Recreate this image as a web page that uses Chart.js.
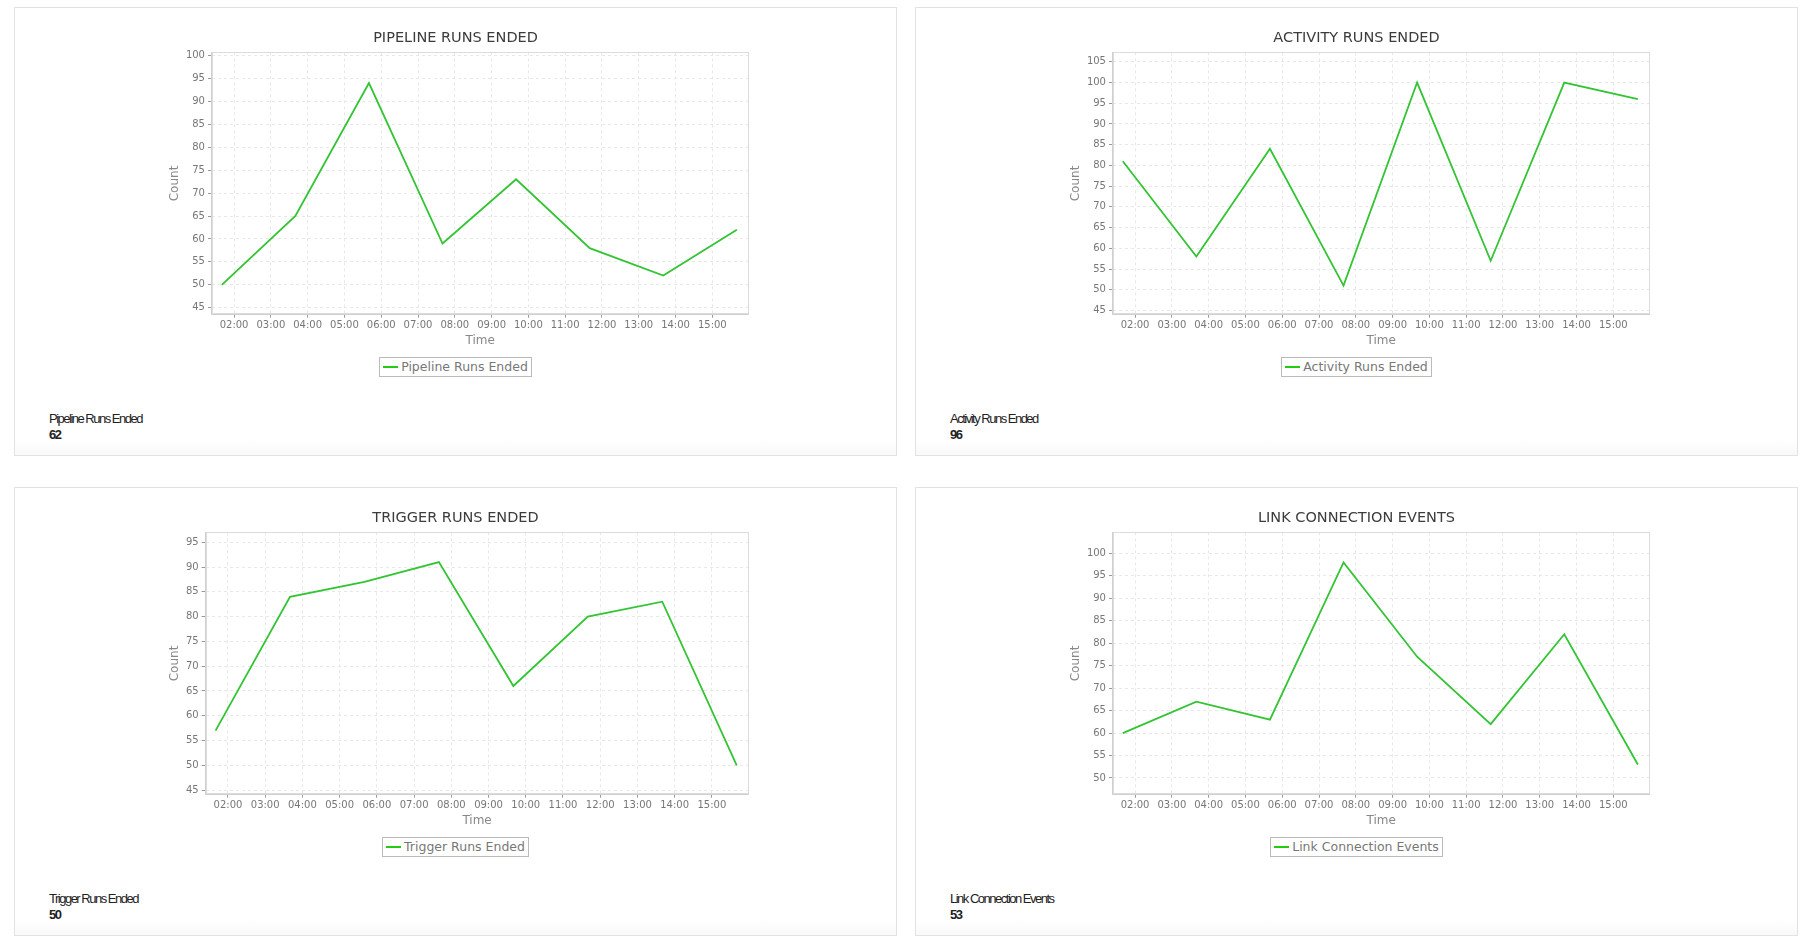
<!DOCTYPE html>
<html>
<head>
<meta charset="utf-8">
<script src="https://cdn.jsdelivr.net/npm/chart.js@4.4.1/dist/chart.umd.min.js"></script>
<style>
    body { margin: 0; width: 1813px; height: 944px; position: relative; overflow: hidden; background: #fff; font-family: "DejaVu Sans", sans-serif; }
    .panel { position: absolute; width: 881px; height: 447px; border: 1px solid #e2e2e2;
             background: linear-gradient(to bottom, #fff 0, #fff 432px, #f9f9f9 447px); }
    .panel canvas { position: absolute; left: 0; top: 0; }
    .legend { position: absolute; left: 0; top: 348px; width: 881px; text-align: center; }
    .legend .box { display: inline-block; border: 1px solid #bbb; height: 18px; line-height: 18px; padding: 0 3px 0 3px;
                   font-size: 12.5px; color: #777; white-space: nowrap; }
    .legend .swatch { display: inline-block; width: 15px; height: 2px; vertical-align: middle; margin-right: 3px; position: relative; top: -1px; }
    .stat { position: absolute; left: 34px; top: 403px; font-family: "Liberation Sans", Arial, sans-serif; font-size: 13px;
            line-height: 16px; letter-spacing: -1.5px; color: #222; }
    .stat b { display: block; }
</style>
</head>
<body>
<div id="p0" class="panel" style="left:14px; top:7px;"></div>
<div id="p1" class="panel" style="left:915px; top:7px;"></div>
<div id="p2" class="panel" style="left:14px; top:487px;"></div>
<div id="p3" class="panel" style="left:915px; top:487px;"></div>
<script>
// sample times (every two hours, at :40)
const times = ['01:40', '03:40', '05:40', '07:40', '09:40', '11:40', '13:40', '15:40'];
const hourTicks = ['02:00', '03:00', '04:00', '05:00', '06:00', '07:00', '08:00', '09:00',
                   '10:00', '11:00', '12:00', '13:00', '14:00', '15:00'];
const timeRange = ['01:24', '15:59'];

const chartTitles = ['PIPELINE RUNS ENDED', 'ACTIVITY RUNS ENDED', 'TRIGGER RUNS ENDED', 'LINK CONNECTION EVENTS'];
const seriesNames = ['Pipeline Runs Ended', 'Activity Runs Ended', 'Trigger Runs Ended', 'Link Connection Events'];

const pipelineRuns = [50, 65, 94, 59, 73, 58, 52, 62];
const activityRuns = [81, 58, 84, 51, 100, 57, 100, 96];
const triggerRuns  = [57, 84, 87, 91, 66, 80, 83, 50];
const linkEvents   = [60, 67, 63, 98, 77, 62, 82, 53];

const pipelineTicks = [45, 50, 55, 60, 65, 70, 75, 80, 85, 90, 95, 100];
const activityTicks = [45, 50, 55, 60, 65, 70, 75, 80, 85, 90, 95, 100, 105];
const triggerTicks  = [45, 50, 55, 60, 65, 70, 75, 80, 85, 90, 95];
const linkTicks     = [50, 55, 60, 65, 70, 75, 80, 85, 90, 95, 100];

const pipelineRange = [43.5, 100.7];
const activityRange = [44.0, 107.3];
const triggerRange  = [44.1, 97.0];
const linkRange     = [46.3, 104.7];

const lineColor = '#33c433';
const legendColor = '#22cc11';

function toHours(t) {
    const [h, m] = t.split(':').map(Number);
    return h + m / 60;
}

function fmtHour(v) {
    return String(Math.floor(v)).padStart(2, '0') + ':00';
}

// light frame around the plot area (top and right edges too)
const plotFrame = {
    id: 'plotFrame',
    beforeDatasetsDraw(chart) {
        const { ctx, chartArea: a } = chart;
        ctx.save();
        ctx.strokeStyle = '#dcdcdc';
        ctx.lineWidth = 1;
        ctx.strokeRect(Math.round(a.left) + 0.5, Math.round(a.top) + 0.5,
                       Math.round(a.right - a.left) - 1, Math.round(a.bottom - a.top) - 1);
        ctx.restore();
    }
};

function makePanel(idx, values, yTicks, yRange) {
    const panel = document.getElementById('p' + idx);

    const canvas = document.createElement('canvas');
    canvas.width = 881;
    canvas.height = 340;
    panel.appendChild(canvas);

    // legend
    const legend = document.createElement('div');
    legend.className = 'legend';
    legend.innerHTML = '<span class="box"><span class="swatch" style="background:' + legendColor + '"></span>' +
                       seriesNames[idx] + '</span>';
    panel.appendChild(legend);

    // last value summary
    const stat = document.createElement('div');
    stat.className = 'stat';
    stat.innerHTML = seriesNames[idx] + '<b>' + values[values.length - 1] + '</b>';
    panel.appendChild(stat);

    const tickFont = { family: 'DejaVu Sans', size: 10 };
    const titleFont = { family: 'DejaVu Sans', size: 12 };

    new Chart(canvas.getContext('2d'), {
        type: 'line',
        data: {
            datasets: [{
                label: seriesNames[idx],
                data: times.map((t, i) => ({ x: toHours(t), y: values[i] })),
                borderColor: lineColor,
                borderWidth: 1.8,
                pointRadius: 0,
                tension: 0,
                fill: false
            }]
        },
        options: {
            responsive: false,
            animation: false,
            layout: { padding: { left: 147.5, right: 147.5, top: 0, bottom: 0 } },
            plugins: {
                legend: { display: false },
                tooltip: { enabled: false },
                title: {
                    display: true,
                    text: chartTitles[idx],
                    color: '#3c3c3c',
                    font: { family: 'DejaVu Sans', size: 14.5, weight: 'normal' },
                    padding: { top: 21.3, bottom: 5.6 }
                }
            },
            scales: {
                x: {
                    type: 'linear',
                    min: toHours(timeRange[0]),
                    max: toHours(timeRange[1]),
                    afterBuildTicks: (axis) => { axis.ticks = hourTicks.map(h => ({ value: toHours(h) })); },
                    ticks: { font: tickFont, color: '#777', padding: 2, maxRotation: 0, autoSkip: false,
                             callback: (v) => fmtHour(v) },
                    grid: { color: '#e8e8e8', tickColor: '#999', tickLength: 3 },
                    border: { color: '#d0d0d0', dash: [3, 3] },
                    title: { display: true, text: 'Time', color: '#888', font: titleFont, padding: { top: 0, bottom: 0 } }
                },
                y: {
                    min: yRange[0],
                    max: yRange[1],
                    afterBuildTicks: (axis) => { axis.ticks = yTicks.map(v => ({ value: v })); },
                    ticks: { font: tickFont, color: '#777', padding: 3 },
                    grid: { color: '#e8e8e8', tickColor: '#999', tickLength: 4 },
                    border: { color: '#d0d0d0', dash: [3, 3] },
                    title: { display: true, text: 'Count', color: '#888', font: titleFont, padding: { top: 5, bottom: 1 } }
                }
            }
        },
        plugins: [plotFrame]
    });
}

makePanel(0, pipelineRuns, pipelineTicks, pipelineRange);
makePanel(1, activityRuns, activityTicks, activityRange);
makePanel(2, triggerRuns, triggerTicks, triggerRange);
makePanel(3, linkEvents, linkTicks, linkRange);
</script>
</body>
</html>
